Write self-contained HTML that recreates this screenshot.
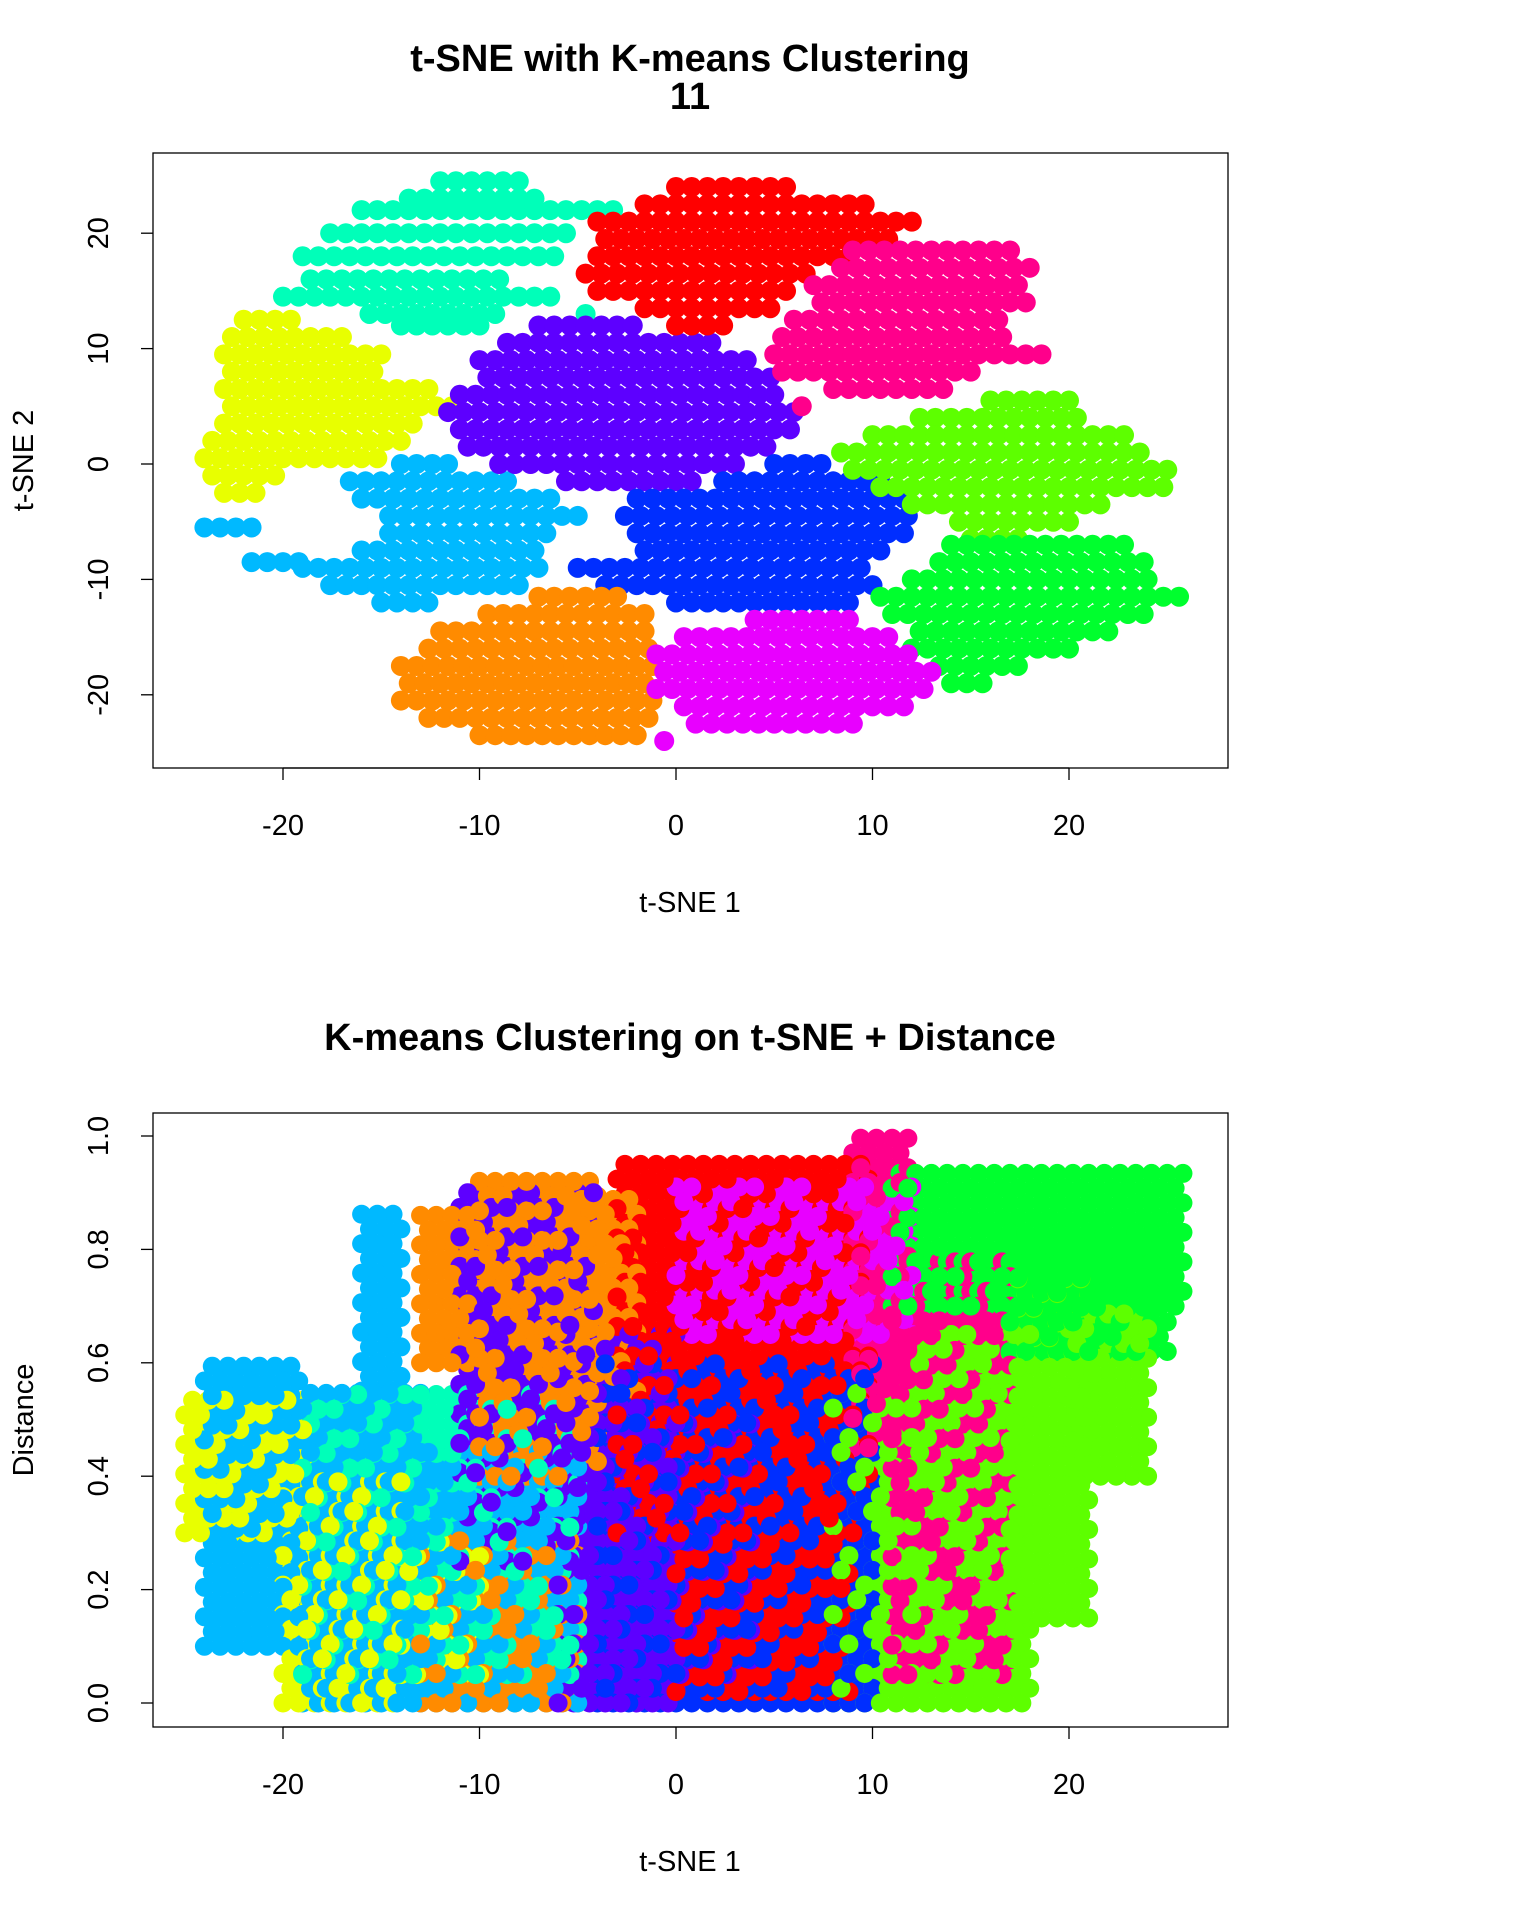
<!DOCTYPE html>
<html><head><meta charset="utf-8"><style>
body{margin:0;background:#fff;}
svg{display:block;font-family:"Liberation Sans",sans-serif;}
</style></head><body>
<svg id="chart" width="1536" height="1920" viewBox="0 0 1536 1920">
<rect width="1536" height="1920" fill="#fff"/>
<text x="690" y="71" font-size="38" font-weight="bold" text-anchor="middle">t-SNE with K-means Clustering</text>
<text x="690" y="109" font-size="38" font-weight="bold" text-anchor="middle">11</text>
<text x="690" y="1050" font-size="38" font-weight="bold" text-anchor="middle">K-means Clustering on t-SNE + Distance</text>
<g id="top"></g>
<g id="bot"></g>
</svg>
<script>
const colors = ["#FF0000","#FF8B00","#E8FF00","#5DFF00","#00FF2E","#00FFB9","#00B9FF","#002EFF","#5D00FF","#E800FF","#FF008B"];
const xTicks = [-20,-10,0,10,20];
const yTicksTop = [-20,-10,0,10,20];
const yTicksBot = [0,0.2,0.4,0.6,0.8,1.0];
const yTickLabelsBot = ["0.0","0.2","0.4","0.6","0.8","1.0"];
// top plot clusters: rows [y, xmin, xmax]
const topAqua = [[24.5,-12,-8],[23,-14,-7],[22,-16,-3],[20,-18,-5],[18,-19,-6],[16,-19,-9],[14.5,-20,-6],[13,-16,-9],[12,-14,-10],[13,-5,-4]];
const topYellow = [[12.5,-22,-19],[11,-23,-17],[9.5,-23,-15],[8,-23,-15],[6.5,-23,-12],[5,-23,-11],[3.5,-23,-13],[2,-24,-14],[0.5,-24,-15],[-1,-24,-20],[-2.5,-23,-21]];
const topLightBlue = [[0,-14,-11],[-1.5,-17,-8],[-3,-16,-6],[-4.5,-15,-5],[-5.5,-24,-21],[-6,-15,-6],[-7.5,-16,-7],[-8.5,-22,-19],[-9,-19,-7],[-10.5,-18,-8],[-12,-15,-12]];
const topPurple = [[12,-7,-2],[10.5,-9,2],[9,-10,4],[7.5,-10,5],[6,-11,5],[4.5,-12,6],[3,-11,6],[1.5,-11,5],[0,-9,3],[-1.5,-6,1]];
const topRed = [[24,0,6],[22.5,-2,10],[21,-4,12],[19.5,-4,11],[18,-4,9],[16.5,-5,7],[15,-4,6],[13.5,-2,5],[12,0,3]];
const topPink = [[18.5,9,17],[17,8,18],[15.5,7,18],[14,7,18],[12.5,6,17],[11,5,17],[9.5,5,19],[8,5,15],[6.5,8,14],[5,6,7]];
const topBlue = [[0,5,8],[-1.5,2,11],[-3,-2,12],[-4.5,-3,12],[-6,-2,12],[-7.5,-2,11],[-9,-5,10],[-10.5,-4,10],[-12,0,9]];
const topLime = [[5.5,16,20],[4,12,21],[2.5,10,23],[1,8,24],[-0.5,9,25],[-2,10,25],[-3.5,12,22],[-5,14,20],[-6.5,15,18]];
const topGreen = [[-7,14,23],[-8.5,13,24],[-10,12,24],[-11.5,10,26],[-13,11,24],[-14.5,12,22],[-16,12,20],[-17.5,13,18],[-19,14,16]];
const topOrange = [[-11.5,-7,-3],[-13,-10,-1],[-14.5,-12,-1],[-16,-13,-1],[-17.5,-14,-1],[-19,-14,-1],[-20.5,-14,-1],[-22,-13,-1],[-23.5,-10,-2]];
const topMagenta = [[-13.5,4,9],[-15,0,11],[-16.5,-1,12],[-18,-1,13],[-19.5,-1,13],[-21,0,12],[-22.5,1,9],[-24,-1,0]];
const topClusters = [[topAqua,5],[topYellow,2],[topLightBlue,6],[topPurple,8],[topRed,0],[topPink,10],[topBlue,7],[topLime,3],[topGreen,4],[topOrange,1],[topMagenta,9]];
// bottom plot: bands [xmin, xmax, dmin, dmax]
const botLightBlue = [[-24,-19,0.1,0.6],[-19,-13,0,0.55],[-16,-14,0.55,0.87],[-13,-5,0,0.45]];
const botYellow = [[-25,-19,0.3,0.55],[-20,-14,0.0,0.4],[-14,-10,0.05,0.3]];
const botAqua = [[-19,-5,0.05,0.55]];
const botOrange = [[-13,-10,0.6,0.88],[-10,-4,0.4,0.92],[-13,-5,0,0.3],[-6,-2,0.55,0.9]];
const botPurple = [[-11,-4,0.25,0.92],[-6,0,0,0.65],[-3,4,0.05,0.5]];
const botBlue = [[-4,10,0,0.6]];
const botRed = [[-3,10,0.3,0.95],[0,9,0.02,0.3]];
const botMagenta = [[0,12,0.65,0.93]];
const botPink = [[9,12,0.45,1.0],[11,17,0.05,0.8]];
const botLime = [[8,12,0,0.55],[12,18,0,0.65],[17,21,0.15,0.75],[20,24,0.4,0.7]];
const botGreen = [[11,26,0.7,0.95],[17,25,0.62,0.85]];
const botClusters = [[botLightBlue,6],[botYellow,2],[botAqua,5],[botOrange,1],[botPurple,8],[botBlue,7],[botRed,0],[botMagenta,9],[botPink,10],[botLime,3],[botGreen,4]];

const NS="http://www.w3.org/2000/svg";
function mk(tag,attrs,parent){const e=document.createElementNS(NS,tag);for(const k in attrs)e.setAttribute(k,attrs[k]);parent.appendChild(e);return e;}
const X0=153,X1=1228;
const sx=v=>676+v*19.65;
function frame(g,top,bot,sy,yt,ytl,ylabel,prefix){
  mk("rect",{x:X0,y:top,width:X1-X0,height:bot-top,fill:"none",stroke:"#000","stroke-width":1.3},g);
  xTicks.forEach(t=>{
    const l=mk("line",{x1:sx(t),x2:sx(t),y1:bot,y2:bot+12,stroke:"#000","stroke-width":1.3},g);
    
    
    const tx=mk("text",{x:sx(t),y:bot+67,"font-size":29,"text-anchor":"middle"},g);
    tx.textContent=String(t);
    
    
  });
  mk("line",{x1:sx(-20),x2:sx(20),y1:bot,y2:bot,stroke:"#000","stroke-width":1.3},g);
  yt.forEach((t,i)=>{
    const y=sy(t);
    const l=mk("line",{x1:X0-12,x2:X0,y1:y,y2:y,stroke:"#000","stroke-width":1.3},g);
    
    
    const tx=mk("text",{x:0,y:0,"font-size":29,"text-anchor":"middle",transform:`translate(108,${y}) rotate(-90)`},g);
    tx.textContent=ytl[i];
    
    
  });
  const xl=mk("text",{x:690,y:bot+144,"font-size":29,"text-anchor":"middle"},g);
  xl.textContent="t-SNE 1";
  
  
  const yl=mk("text",{x:0,y:0,"font-size":29,"text-anchor":"middle",transform:`translate(33,${(top+bot)/2}) rotate(-90)`},g);
  yl.textContent=ylabel;
  
  
}
// top
const gT=document.getElementById("top");
const syT=v=>464-v*11.54;
topClusters.forEach(([rows,ci])=>{
  const cg=mk("g",{fill:colors[ci]},gT);
  
  
  rows.forEach(([y,a,b],ri)=>{
    const off=(ri%2)*0.4;
    for(let x=a+off;x<=b+1e-9;x+=0.8){
      const c=mk("circle",{cx:sx(x),cy:syT(y),r:10},cg);
      
      
    }
  });
});
frame(gT,153,768,syT,yTicksTop,yTicksTop.map(String),"t-SNE 2","top");
// bottom: collect all points, then draw in an interleaved (deterministic) order
const gB=document.getElementById("bot");
const syB=v=>1703-v*567;
const pts=[];
botClusters.forEach(([bands,ci],k)=>{
  bands.forEach(([a,b,d0,d1])=>{
    let ri=0;
    for(let d=d0;d<=d1+1e-9;d+=0.026,ri++){
      const off=(ri%2)*0.4;
      let cj=0;
      for(let x=a+off;x<=b+1e-9;x+=0.8,cj++){
        pts.push({x,d,ci,key:(ri*7+cj*3+k*5)%11});
      }
    }
  });
});
pts.sort((p,q)=>p.key-q.key);
pts.forEach(p=>{
  const c=mk("circle",{cx:sx(p.x),cy:syB(p.d),r:9.5,fill:colors[p.ci]},gB);
  
  
});
frame(gB,1113,1727,syB,yTicksBot,yTickLabelsBot,"Distance","bottom");
</script>
</body></html>
